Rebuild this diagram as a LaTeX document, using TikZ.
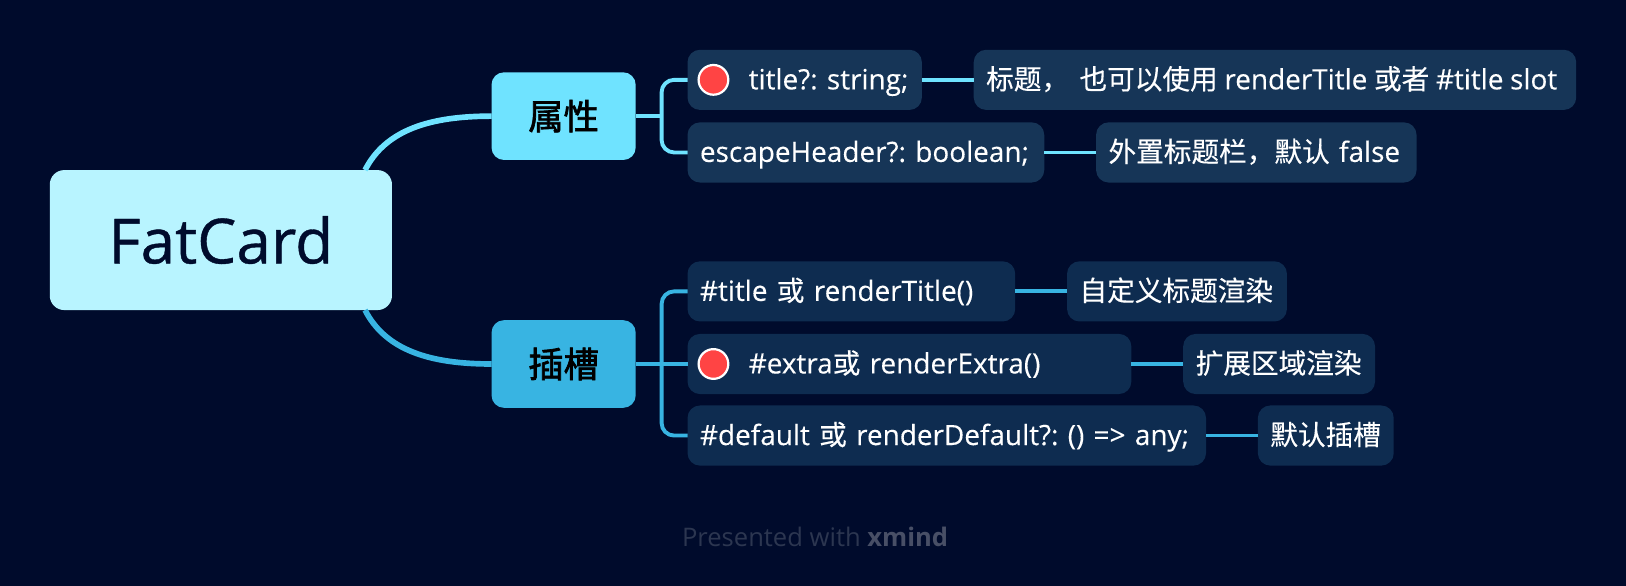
\documentclass[tikz,border=0pt]{standalone}
\usepackage{fontspec}
\setmainfont{Open Sans}
\newfontfamily\medf{Open Sans}[FakeBold=0.25]
\newfontfamily\rootf{Open Sans}[FakeBold=0.6]
\newfontfamily\cjk{Noto Sans CJK SC}[FakeBold=0.25]
\newfontfamily\cjkb{Noto Sans CJK SC}[FakeBold=2.0]
\newcommand{\zh}[1]{{\cjk\fontsize{20}{24}\selectfont #1}}
\usetikzlibrary{calc}
\definecolor{bgc}{HTML}{000B2C}
\definecolor{rootc}{HTML}{B8F4FF}
\definecolor{aaa}{HTML}{6FE3FF}
\definecolor{bbb}{HTML}{38B4E2}
\definecolor{suba}{HTML}{163557}
\definecolor{subb}{HTML}{0E2C50}
\definecolor{markc}{HTML}{FF4444}
\definecolor{footc}{HTML}{2C3650}
\definecolor{footd}{HTML}{484F66}
\tikzset{
  x=0.75pt,y=-0.75pt,
  every node/.style={outer sep=0pt},
  sub/.style={anchor=west,rounded corners=9pt,text=white,align=left,
    minimum height=43.5pt,inner xsep=9pt,inner ysep=0pt,
    minimum width=#1*0.75pt,text width=(#1-24)*0.75pt,
    text height=18pt,text depth=4.3pt,
    font=\medf\fontsize{20.2}{24}\selectfont\frenchspacing},
  mid/.style={anchor=west,rounded corners=9pt,minimum width=104.25pt,minimum height=63.4pt,
    inner sep=0pt,text=black,font=\cjkb\fontsize{25.5}{30}\selectfont},
  flag/.style={circle,fill=markc,draw=white,line width=1.6pt,minimum size=21.5pt,inner sep=0pt},
  lnk/.style={line width=2.8pt},
  lnkb/.style={line width=4.1pt},
}
\newcommand{\gap}{\hspace*{35.25pt}}
\begin{document}
\begin{tikzpicture}
\useasboundingbox[fill=bgc] (0,0) rectangle (1568,565);
\coordinate (spa) at (638,112);
\coordinate (spb) at (638,351);
\node[anchor=west,fill=rootc,rounded corners=10.5pt,minimum width=247.5pt,minimum height=101.25pt,inner sep=0pt,
  text=bgc,font=\rootf\fontsize{45}{50}\selectfont] (root) at (48,231.5) {\raisebox{0.4pt}{FatCard}};
\node[mid,fill=aaa] (pa) at (474,112) {属性};
\node[mid,fill=bbb] (pb) at (474,351) {插槽};
\node[sub=226,fill=suba] (t1) at (663,77) {\gap title?: string;};
\node[flag] (m1) at (688,77) {};
\node[sub=581,fill=suba] (t1b) at (939,77) {\spaceskip=4.8pt\mbox{\zh{标题，\hspace*{7.5pt}也可以使用} renderTitle \zh{或者} \#title slot}};
\node[sub=344,fill=suba] (t2) at (663,147) {escapeHeader?: boolean;};
\node[sub=309,fill=suba] (t2b) at (1057,147) {\zh{外置标题栏，默认} false};
\node[sub=316,fill=subb] (s1) at (663,281) {\#title \zh{或} renderTitle()};
\node[sub=212,fill=subb] (s1b) at (1029,281) {\zh{自定义标题渲染}};
\node[sub=428,fill=subb] (s2) at (663,351) {\gap\#extra\zh{或} renderExtra()};
\node[flag] (m2) at (688,351) {};
\node[sub=185,fill=subb] (s2b) at (1141,351) {\zh{扩展区域渲染}};
\node[sub=500,fill=subb] (s3) at (663,420) {\#default \zh{或} renderDefault?: () => any;};
\node[sub=131,fill=subb] (s3b) at (1213,420) {\zh{默认插槽}};
\node[text=footc,font=\fontsize{18.5}{22}\selectfont] (foot) at (786,517.5) {Presented with \textcolor{footd}{\textbf{xmind}}};
% connectors
\draw[lnkb,aaa] ($(root.north west)+(304,0)$) .. controls ($(root.north west)+(324,-39)$) and ($(pa.west)+(-59,0)$) .. (pa.west);
\draw[lnkb,bbb] ($(root.south west)+(304,0)$) .. controls ($(root.south west)+(324,39)$) and ($(pb.west)+(-59,0)$) .. (pb.west);
\draw[lnk,aaa] (pa.east) -- (spa);
\draw[lnk,aaa,rounded corners=9pt] (t1.west) -| (spa) |- (t2.west);
\draw[lnk,bbb] (pb.east) -- (s2.west);
\draw[lnk,bbb,rounded corners=9pt] (s1.west) -| (spb) |- (s3.west);
\draw[lnk,aaa] (t1.east) -- (t1b.west);
\draw[lnk,aaa] (t2.east) -- (t2b.west);
\draw[lnk,bbb] (s1.east) -- (s1b.west);
\draw[lnk,bbb] (s2.east) -- (s2b.west);
\draw[lnk,bbb] (s3.east) -- (s3b.west);
\end{tikzpicture}
\end{document}
